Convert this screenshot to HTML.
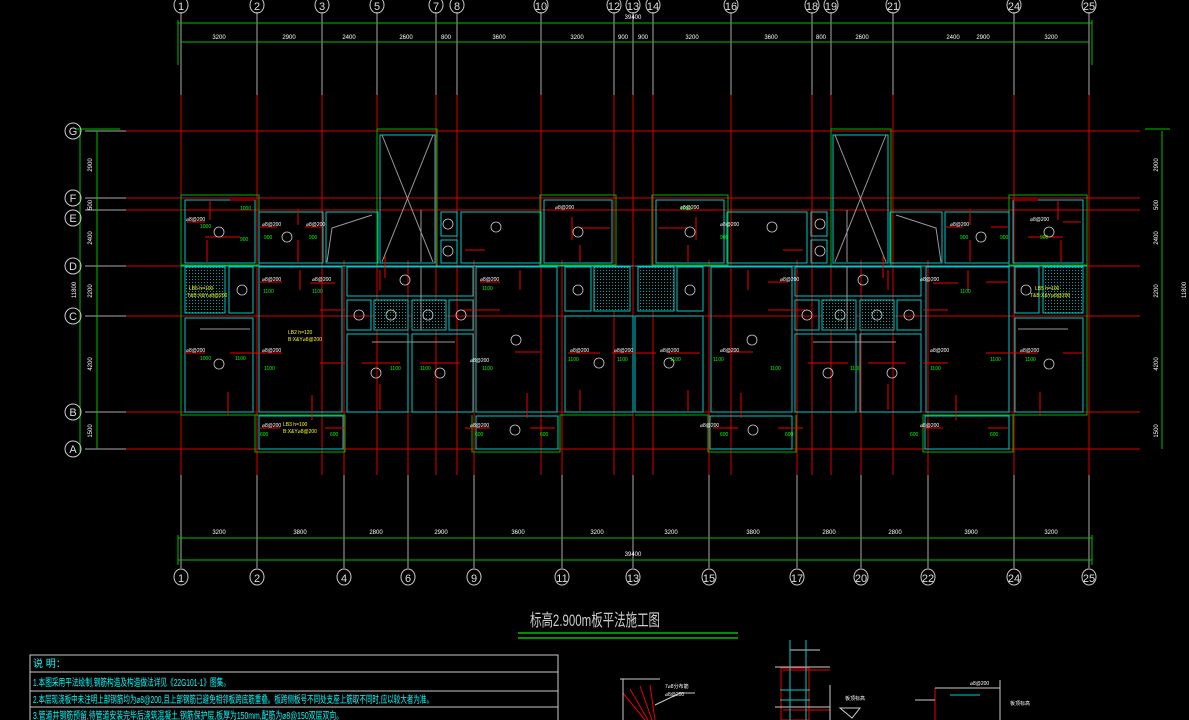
<!DOCTYPE html>
<html><head><meta charset="utf-8"><style>
html,body{margin:0;padding:0;background:#000;width:1189px;height:720px;overflow:hidden}
svg{display:block}
text{font-family:"Liberation Sans","Noto Sans CJK SC",sans-serif}
</style></head><body>
<svg width="1189" height="720" viewBox="0 0 1189 720" xmlns="http://www.w3.org/2000/svg">
<rect width="1189" height="720" fill="#000"/>
<g stroke="#aaa" stroke-width="1">
<line x1="181" y1="12" x2="181" y2="95"/><line x1="257" y1="12" x2="257" y2="95"/><line x1="322" y1="12" x2="322" y2="95"/><line x1="377" y1="12" x2="377" y2="95"/><line x1="436" y1="12" x2="436" y2="95"/><line x1="457" y1="12" x2="457" y2="95"/><line x1="541" y1="12" x2="541" y2="95"/><line x1="614" y1="12" x2="614" y2="95"/><line x1="633" y1="12" x2="633" y2="95"/><line x1="653" y1="12" x2="653" y2="95"/><line x1="731" y1="12" x2="731" y2="95"/><line x1="812" y1="12" x2="812" y2="95"/><line x1="831" y1="12" x2="831" y2="95"/><line x1="893" y1="12" x2="893" y2="95"/><line x1="1014" y1="12" x2="1014" y2="95"/><line x1="1089" y1="12" x2="1089" y2="95"/>
<line x1="181" y1="475" x2="181" y2="568"/><line x1="257" y1="475" x2="257" y2="568"/><line x1="344" y1="475" x2="344" y2="568"/><line x1="408" y1="475" x2="408" y2="568"/><line x1="474" y1="475" x2="474" y2="568"/><line x1="562" y1="475" x2="562" y2="568"/><line x1="633" y1="475" x2="633" y2="568"/><line x1="709" y1="475" x2="709" y2="568"/><line x1="797" y1="475" x2="797" y2="568"/><line x1="861" y1="475" x2="861" y2="568"/><line x1="928" y1="475" x2="928" y2="568"/><line x1="1014" y1="475" x2="1014" y2="568"/><line x1="1089" y1="475" x2="1089" y2="568"/>
<line x1="85" y1="131" x2="126" y2="131"/><line x1="85" y1="198" x2="126" y2="198"/><line x1="85" y1="210" x2="126" y2="210"/><line x1="85" y1="266" x2="126" y2="266"/><line x1="85" y1="316" x2="126" y2="316"/><line x1="85" y1="412" x2="126" y2="412"/><line x1="85" y1="449" x2="126" y2="449"/>
</g>
<g stroke="#e00000" stroke-width="1">
<line x1="181" y1="95" x2="181" y2="475"/><line x1="257" y1="95" x2="257" y2="475"/><line x1="322" y1="95" x2="322" y2="475"/><line x1="377" y1="95" x2="377" y2="475"/><line x1="436" y1="95" x2="436" y2="475"/><line x1="457" y1="95" x2="457" y2="475"/><line x1="541" y1="95" x2="541" y2="475"/><line x1="614" y1="95" x2="614" y2="475"/><line x1="633" y1="95" x2="633" y2="475"/><line x1="653" y1="95" x2="653" y2="475"/><line x1="731" y1="95" x2="731" y2="475"/><line x1="812" y1="95" x2="812" y2="475"/><line x1="831" y1="95" x2="831" y2="475"/><line x1="893" y1="95" x2="893" y2="475"/><line x1="1014" y1="95" x2="1014" y2="475"/><line x1="1089" y1="95" x2="1089" y2="475"/>
<line x1="344" y1="260" x2="344" y2="475"/><line x1="408" y1="260" x2="408" y2="475"/><line x1="474" y1="260" x2="474" y2="475"/><line x1="562" y1="260" x2="562" y2="475"/><line x1="709" y1="260" x2="709" y2="475"/><line x1="797" y1="260" x2="797" y2="475"/><line x1="861" y1="260" x2="861" y2="475"/><line x1="928" y1="260" x2="928" y2="475"/>
<line x1="126" y1="131" x2="1140" y2="131"/><line x1="126" y1="198" x2="1140" y2="198"/><line x1="126" y1="210" x2="1140" y2="210"/><line x1="126" y1="266" x2="1140" y2="266"/><line x1="126" y1="316" x2="1140" y2="316"/><line x1="126" y1="412" x2="1140" y2="412"/><line x1="126" y1="449" x2="1140" y2="449"/>
</g>
<g stroke="#00c000" stroke-width="1" fill="none">
<line x1="178" y1="23" x2="1092" y2="23"/><line x1="181" y1="42" x2="1089" y2="42"/><line x1="178" y1="20" x2="178" y2="65"/><line x1="1092" y1="20" x2="1092" y2="65"/>
<line x1="178" y1="538" x2="1092" y2="538"/><line x1="178" y1="560" x2="1092" y2="560"/><line x1="178" y1="535" x2="178" y2="565"/><line x1="1092" y1="535" x2="1092" y2="565"/>
<line x1="80" y1="130" x2="80" y2="452"/><line x1="97" y1="131" x2="97" y2="449"/><line x1="75" y1="129" x2="120" y2="129"/>
<line x1="1190" y1="130" x2="1190" y2="452"/><line x1="1162" y1="131" x2="1162" y2="449"/><line x1="1145" y1="129" x2="1170" y2="129"/>
</g>
<g fill="#fff" font-size="6" text-anchor="middle">
<text x="219" y="39">3200</text><text x="289" y="39">2900</text><text x="349" y="39">2400</text><text x="406" y="39">2600</text><text x="446" y="39">800</text><text x="499" y="39">3600</text><text x="577" y="39">3200</text><text x="623" y="39">900</text><text x="643" y="39">900</text><text x="692" y="39">3200</text><text x="771" y="39">3600</text><text x="821" y="39">800</text><text x="862" y="39">2600</text><text x="953" y="39">2400</text><text x="983" y="39">2900</text><text x="1051" y="39">3200</text>
<text x="633" y="19">39400</text>
<text x="219" y="534">3200</text><text x="300" y="534">3800</text><text x="376" y="534">2800</text><text x="441" y="534">2900</text><text x="518" y="534">3600</text><text x="597" y="534">3200</text><text x="671" y="534">3200</text><text x="753" y="534">3800</text><text x="829" y="534">2800</text><text x="971" y="534">3900</text><text x="1051" y="534">3200</text><text x="895" y="534">2800</text>
<text x="633" y="556">39400</text>
</g>
<g fill="#fff" font-size="6" text-anchor="middle">
<text transform="translate(92,165) rotate(-90)">2900</text><text transform="translate(92,205) rotate(-90)">500</text><text transform="translate(92,238) rotate(-90)">2400</text><text transform="translate(92,291) rotate(-90)">2200</text><text transform="translate(92,364) rotate(-90)">4200</text><text transform="translate(92,431) rotate(-90)">1500</text><text transform="translate(76,290) rotate(-90)">11800</text>
<text transform="translate(1158,165) rotate(-90)">2900</text><text transform="translate(1158,205) rotate(-90)">500</text><text transform="translate(1158,238) rotate(-90)">2400</text><text transform="translate(1158,291) rotate(-90)">2200</text><text transform="translate(1158,364) rotate(-90)">4200</text><text transform="translate(1158,431) rotate(-90)">1500</text><text transform="translate(1186,290) rotate(-90)">11800</text>
</g>
<g stroke="#ccc" fill="none" stroke-width="1">
<ellipse cx="181" cy="5" rx="7" ry="8"/><ellipse cx="257" cy="5" rx="7" ry="8"/><ellipse cx="322" cy="5" rx="7" ry="8"/><ellipse cx="377" cy="5" rx="7" ry="8"/><ellipse cx="436" cy="5" rx="7" ry="8"/><ellipse cx="457" cy="5" rx="7" ry="8"/><ellipse cx="541" cy="5" rx="7" ry="8"/><ellipse cx="614" cy="5" rx="7" ry="8"/><ellipse cx="633" cy="5" rx="7" ry="8"/><ellipse cx="653" cy="5" rx="7" ry="8"/><ellipse cx="731" cy="5" rx="7" ry="8"/><ellipse cx="812" cy="5" rx="7" ry="8"/><ellipse cx="831" cy="5" rx="7" ry="8"/><ellipse cx="893" cy="5" rx="7" ry="8"/><ellipse cx="1014" cy="5" rx="7" ry="8"/><ellipse cx="1089" cy="5" rx="7" ry="8"/>
<ellipse cx="181" cy="577" rx="7" ry="8"/><ellipse cx="257" cy="577" rx="7" ry="8"/><ellipse cx="344" cy="577" rx="7" ry="8"/><ellipse cx="408" cy="577" rx="7" ry="8"/><ellipse cx="474" cy="577" rx="7" ry="8"/><ellipse cx="562" cy="577" rx="7" ry="8"/><ellipse cx="633" cy="577" rx="7" ry="8"/><ellipse cx="709" cy="577" rx="7" ry="8"/><ellipse cx="797" cy="577" rx="7" ry="8"/><ellipse cx="861" cy="577" rx="7" ry="8"/><ellipse cx="928" cy="577" rx="7" ry="8"/><ellipse cx="1014" cy="577" rx="7" ry="8"/><ellipse cx="1089" cy="577" rx="7" ry="8"/>
<ellipse cx="73" cy="131" rx="8" ry="8"/><ellipse cx="73" cy="198" rx="8" ry="8"/><ellipse cx="73" cy="218" rx="8" ry="8"/><ellipse cx="73" cy="266" rx="8" ry="8"/><ellipse cx="73" cy="316" rx="8" ry="8"/><ellipse cx="73" cy="412" rx="8" ry="8"/><ellipse cx="73" cy="449" rx="8" ry="8"/>
</g>
<g fill="#ddd" font-size="11" text-anchor="middle">
<text x="181" y="10">1</text><text x="257" y="10">2</text><text x="322" y="10">3</text><text x="377" y="10">5</text><text x="436" y="10">7</text><text x="457" y="10">8</text><text x="541" y="10">10</text><text x="614" y="10">12</text><text x="633" y="10">13</text><text x="653" y="10">14</text><text x="731" y="10">16</text><text x="812" y="10">18</text><text x="831" y="10">19</text><text x="893" y="10">21</text><text x="1014" y="10">24</text><text x="1089" y="10">25</text>
<text x="181" y="582">1</text><text x="257" y="582">2</text><text x="344" y="582">4</text><text x="408" y="582">6</text><text x="474" y="582">9</text><text x="562" y="582">11</text><text x="633" y="582">13</text><text x="709" y="582">15</text><text x="797" y="582">17</text><text x="861" y="582">20</text><text x="928" y="582">22</text><text x="1014" y="582">24</text><text x="1089" y="582">25</text>
<text x="73" y="135">G</text><text x="73" y="202">F</text><text x="73" y="222">E</text><text x="73" y="270">D</text><text x="73" y="320">C</text><text x="73" y="416">B</text><text x="73" y="453">A</text>
</g>
<defs>
<pattern id="h" width="3" height="3" patternUnits="userSpaceOnUse"><rect width="3" height="3" fill="#000"/><rect width="1" height="1" fill="#0aa"/></pattern>
<g id="half">
<g stroke="#00b000" fill="none" stroke-width="1">
<rect x="181" y="195" width="78" height="70"/><rect x="377" y="129" width="60" height="137"/><rect x="540" y="195" width="76" height="70"/>
<path d="M181 265 V415 H345 V452 H255 V415"/><path d="M472 415 V452 H560 V415 H633"/>
</g>
<g stroke="#00c8c8" fill="none" stroke-width="1">
<rect x="185" y="200" width="70" height="63"/><rect x="259" y="212" width="64" height="51"/><rect x="326" y="212" width="52" height="51"/>
<rect x="380" y="135" width="55" height="128"/><rect x="441" y="212" width="16" height="24"/><rect x="441" y="240" width="16" height="23"/><rect x="461" y="212" width="80" height="51"/><rect x="544" y="200" width="68" height="63"/>
<rect x="185" y="267" width="40" height="46" fill="url(#h)"/><rect x="229" y="267" width="24" height="46"/>
<rect x="185" y="318" width="68" height="94"/><rect x="259" y="267" width="83" height="145"/>
<rect x="347" y="267" width="126" height="29"/><rect x="347" y="300" width="24" height="30"/><rect x="374" y="300" width="34" height="30" fill="url(#h)"/><rect x="412" y="300" width="34" height="30" fill="url(#h)"/><rect x="449" y="300" width="24" height="30"/>
<rect x="347" y="334" width="61" height="78"/><rect x="412" y="334" width="61" height="78"/><rect x="476" y="267" width="81" height="145"/>
<rect x="565" y="267" width="26" height="44"/><rect x="594" y="267" width="36" height="44" fill="url(#h)"/><rect x="565" y="316" width="68" height="96"/>
<rect x="259" y="416" width="84" height="33"/><rect x="476" y="416" width="82" height="33"/>
<line x1="181" y1="266" x2="633" y2="266"/>
</g>
<g stroke="#999" fill="none" stroke-width="1">
<line x1="382" y1="135" x2="433" y2="262"/><line x1="433" y1="135" x2="382" y2="262"/>
<path d="M327 262 L332 228 L372 215"/>
<line x1="200" y1="329" x2="250" y2="329"/><line x1="372" y1="342" x2="455" y2="342"/><line x1="421" y1="210" x2="421" y2="262"/><line x1="421" y1="266" x2="421" y2="330"/>
</g>
<g stroke="#e00" stroke-width="1">
<line x1="187" y1="222" x2="205" y2="222"/><line x1="230" y1="200" x2="255" y2="200"/><line x1="210" y1="200" x2="210" y2="220"/><line x1="205" y1="237" x2="240" y2="237"/><line x1="207" y1="240" x2="207" y2="262"/>
<line x1="260" y1="227" x2="277" y2="227"/><line x1="298" y1="210" x2="298" y2="225"/><line x1="305" y1="227" x2="322" y2="227"/><line x1="298" y1="240" x2="298" y2="262"/>
<line x1="300" y1="270" x2="300" y2="290"/><line x1="260" y1="282" x2="282" y2="282"/><line x1="310" y1="283" x2="335" y2="283"/><line x1="320" y1="310" x2="345" y2="310"/>
<line x1="230" y1="353" x2="282" y2="353"/><line x1="184" y1="353" x2="205" y2="353"/><line x1="320" y1="363" x2="345" y2="363"/><line x1="228" y1="392" x2="228" y2="416"/>
<line x1="312" y1="395" x2="312" y2="420"/><line x1="260" y1="428" x2="280" y2="428"/><line x1="325" y1="428" x2="345" y2="428"/>
<line x1="380" y1="270" x2="380" y2="290"/><line x1="385" y1="256" x2="385" y2="278"/><line x1="465" y1="250" x2="485" y2="250"/><line x1="480" y1="282" x2="500" y2="282"/><line x1="520" y1="270" x2="520" y2="290"/><line x1="460" y1="310" x2="500" y2="310"/>
<line x1="420" y1="363" x2="460" y2="363"/><line x1="362" y1="363" x2="400" y2="363"/><line x1="380" y1="384" x2="380" y2="410"/><line x1="527" y1="393" x2="527" y2="418"/><line x1="465" y1="428" x2="490" y2="428"/><line x1="530" y1="428" x2="555" y2="428"/>
<line x1="553" y1="210" x2="580" y2="210"/><line x1="572" y1="217" x2="572" y2="240"/><line x1="580" y1="228" x2="610" y2="228"/><line x1="580" y1="245" x2="580" y2="262"/><line x1="568" y1="353" x2="600" y2="353"/><line x1="612" y1="353" x2="640" y2="353"/><line x1="580" y1="390" x2="580" y2="412"/><line x1="515" y1="352" x2="540" y2="352"/>
</g>
<g stroke="#ccc" fill="none" stroke-width="0.8">
<circle cx="219" cy="232" r="5"/><circle cx="287" cy="237" r="5"/><circle cx="242" cy="290" r="5"/><circle cx="219" cy="364" r="5"/><circle cx="405" cy="280" r="5"/><circle cx="359" cy="315" r="5"/><circle cx="391" cy="315" r="5"/><circle cx="428" cy="315" r="5"/><circle cx="461" cy="315" r="5"/><circle cx="376" cy="373" r="5"/><circle cx="440" cy="373" r="5"/><circle cx="516" cy="340" r="5"/><circle cx="515" cy="430" r="5"/><circle cx="578" cy="290" r="5"/><circle cx="599" cy="363" r="5"/><circle cx="578" cy="232" r="5"/><circle cx="496" cy="227" r="5"/><circle cx="448" cy="224" r="5"/><circle cx="448" cy="251" r="5"/>
</g>
</g>
</defs>
<use href="#half"/>
<use href="#half" transform="translate(1268,0) scale(-1,1)"/>
<g font-size="5" fill="#0f0">
<text x="200" y="228">1000</text><text x="240" y="210">1000</text><text x="240" y="241">900</text><text x="264" y="239">900</text><text x="309" y="239">900</text><text x="263" y="293">1100</text><text x="312" y="293">1100</text><text x="264" y="370">1100</text><text x="235" y="360">1100</text><text x="200" y="360">1000</text><text x="260" y="436">600</text><text x="330" y="436">600</text><text x="475" y="436">600</text><text x="540" y="436">600</text><text x="482" y="290">1100</text><text x="482" y="370">1100</text><text x="568" y="361">1100</text><text x="617" y="361">1100</text><text x="420" y="370">1100</text><text x="390" y="370">1100</text>
<text x="670" y="361">1100</text><text x="713" y="361">1100</text><text x="770" y="370">1100</text><text x="850" y="370">1100</text><text x="930" y="370">1100</text><text x="990" y="361">1100</text><text x="1025" y="361">1100</text><text x="1000" y="239">900</text><text x="1040" y="239">900</text><text x="960" y="239">900</text><text x="720" y="239">900</text><text x="680" y="210">1000</text><text x="960" y="293">1100</text><text x="910" y="436">600</text><text x="990" y="436">600</text><text x="720" y="436">600</text><text x="785" y="436">600</text>
</g>
<g font-size="5" fill="#fff">
<text x="186" y="221">⌀8@200</text><text x="262" y="226">⌀8@200</text><text x="306" y="226">⌀8@200</text><text x="262" y="281">⌀8@200</text><text x="312" y="281">⌀8@200</text><text x="186" y="352">⌀8@200</text><text x="262" y="352">⌀8@200</text><text x="480" y="281">⌀8@200</text><text x="470" y="362">⌀8@200</text><text x="570" y="352">⌀8@200</text><text x="614" y="352">⌀8@200</text><text x="262" y="427">⌀8@200</text><text x="470" y="427">⌀8@200</text><text x="555" y="209">⌀8@200</text>
<text x="920" y="281">⌀8@200</text><text x="930" y="352">⌀8@200</text><text x="1020" y="352">⌀8@200</text><text x="1030" y="221">⌀8@200</text><text x="950" y="226">⌀8@200</text><text x="720" y="226">⌀8@200</text><text x="680" y="209">⌀8@200</text><text x="720" y="352">⌀8@200</text><text x="660" y="352">⌀8@200</text><text x="920" y="427">⌀8@200</text><text x="700" y="427">⌀8@200</text><text x="780" y="281">⌀8@200</text>
</g>
<g font-size="5" fill="#ff0"><text x="189" y="290">LB5 h=100</text><text x="187" y="297">T&amp;B:X&amp;Y⌀8@200</text><text x="288" y="334">LB2 h=120</text><text x="288" y="341">B:X&amp;Y⌀8@200</text><text x="283" y="426">LB3 h=100</text><text x="283" y="433">B:X&amp;Y⌀8@200</text>
<text x="1035" y="290">LB5 h=100</text><text x="1030" y="297">T&amp;B:X&amp;Y⌀8@200</text></g>
<text x="530" y="626" font-size="17" fill="#ccc" textLength="130" lengthAdjust="spacingAndGlyphs" font-family="Liberation Serif,Noto Serif CJK SC,serif">标高2.900m板平法施工图</text>
<line x1="518" y1="633" x2="738" y2="633" stroke="#00c000" stroke-width="1.5"/><line x1="518" y1="638" x2="738" y2="638" stroke="#00c000" stroke-width="1.5"/>
<g stroke="#ccc" fill="none" stroke-width="1"><rect x="30" y="655" width="528" height="70"/><line x1="30" y1="672" x2="558" y2="672"/><line x1="30" y1="691" x2="558" y2="691"/><line x1="30" y1="707" x2="558" y2="707"/></g>
<g fill="#0ff" font-size="10"><text x="33" y="667">说   明：</text>
<text x="33" y="686" textLength="197" lengthAdjust="spacingAndGlyphs">1.本图采用平法绘制,钢筋构造及构造做法详见《22G101-1》图集。</text>
<text x="33" y="703" textLength="400" lengthAdjust="spacingAndGlyphs">2.本层现浇板中未注明上部钢筋均为⌀8@200,且上部钢筋已避免相邻板跨底筋重叠。板跨侧板号不同处支座上筋取不同时,应以较大者为准。</text>
<text x="33" y="719" textLength="310" lengthAdjust="spacingAndGlyphs">3.管道井钢筋预留,待管道安装完毕后浇筑混凝土,钢筋保护层,板厚为150mm,配筋为⌀8@150双层双向。</text></g>
<g stroke="#e00" fill="none" stroke-width="1">
<path d="M623 693 L645 720 M630 689 L648 720 M640 686 L652 720 M650 685 L655 720"/>
<rect x="781" y="668" width="28" height="52"/><path d="M783 670 H830 M783 710 H830 M935 688 H970 M935 688 V720"/>
</g>
<g stroke="#ccc" fill="none" stroke-width="1"><line x1="620" y1="679" x2="660" y2="679"/><line x1="623" y1="679" x2="623" y2="720"/><path d="M655 705 L680 693 H695"/>
<path d="M775 667 H830 M790 650 H820 M775 707 H830 M830 685 V720 M840 708 H860 L852 718 Z M935 688 H1000 M1000 680 V720 M915 700 H935"/></g>
<g stroke="#0cc" fill="none"><path d="M790 640 V720 M806 640 V720 M780 690 H810 M780 700 H810 M950 695 H980"/></g>
<g font-size="5" fill="#fff"><text x="665" y="688">7⌀8分布筋</text><text x="665" y="696">⌀8@200</text><text x="845" y="700">板顶标高</text><text x="1010" y="705">板顶标高</text><text x="970" y="685">⌀8@200</text></g>
</svg>
</body></html>
